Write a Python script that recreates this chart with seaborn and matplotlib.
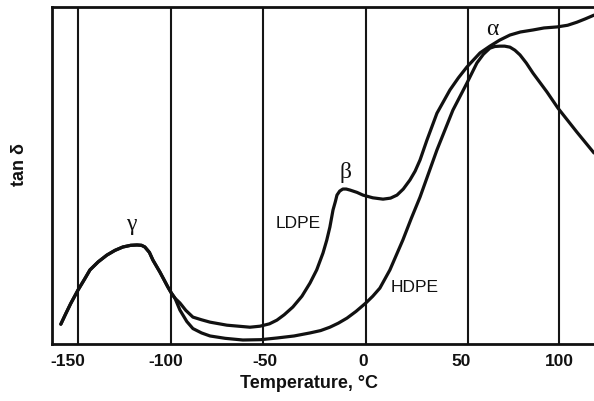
import matplotlib
matplotlib.use("Agg")
import matplotlib.pyplot as plt
import seaborn as sns
import pandas as pd

# shared gamma-relaxation part of both curves (deg C, arbitrary tan delta units 0..100)
common_t = [-153.5, -151.0, -148.5, -144.8, -141.5, -138.7, -134.5, -130.1, -126.0, -122.0,
            -118.0, -114.8, -112.5, -110.8, -108.5, -106.7, -105.0, -103.2, -101.0, -99.1,
            -97.3, -95.5]
common_tan = [5.9, 9.0, 12.0, 16.0, 19.2, 22.0, 24.4, 26.4, 27.8, 28.8,
              29.3, 29.4, 29.3, 28.8, 27.2, 24.9, 23.2, 21.4, 19.0, 16.9,
              15.1, 13.6]

ldpe_t = [-93.0, -90.0, -86.4, -82.0, -77.7, -69.1, -57.4, -52.3, -47.5, -43.7, -40.0,
          -35.6, -31.0, -26.9, -23.5, -20.3, -18.4, -16.8, -15.2, -14.0, -13.2, -11.8,
          -10.2, -8.5, -6.6, -3.0, 0.0, 5.0, 10.2, 14.0, 17.3, 20.5, 23.9, 26.5, 29.0,
          32.5, 37.6, 44.2, 48.5, 52.8, 59.5, 64.5, 69.5, 74.7, 80.0, 86.4, 92.0, 98.6,
          104.0, 108.7, 113.0, 117.4]
ldpe_tan = [12.2, 10.0, 8.0, 7.2, 6.5, 5.6, 5.0, 5.3, 6.0, 7.1, 8.7,
            11.0, 14.2, 18.1, 22.0, 27.0, 30.8, 34.7, 39.8, 42.3, 44.2, 45.4,
            46.0, 46.0, 45.7, 45.0, 44.2, 43.4, 43.0, 43.3, 44.2, 46.0, 48.7, 51.3, 54.6,
            60.5, 68.5, 75.4, 79.0, 82.2, 86.4, 88.4, 90.2, 91.7, 92.6, 93.2, 93.8, 94.1,
            94.6, 95.5, 96.5, 97.6]

hdpe_t = [-93.0, -89.5, -86.4, -82.0, -77.7, -70.0, -61.0, -52.0, -43.7, -35.0, -26.9,
          -21.5, -16.8, -12.5, -8.1, -3.5, 1.5, 5.0, 8.6, 13.7, 20.3, 24.5, 29.0, 37.6,
          45.7, 52.8, 57.9, 61.2, 64.5, 67.0, 69.6, 72.0, 74.7, 77.2, 79.8, 83.0, 86.4,
          93.5, 99.1, 108.7, 117.4]
hdpe_tan = [10.1, 6.7, 4.6, 3.3, 2.4, 1.7, 1.2, 1.3, 1.8, 2.4, 3.3,
            4.0, 5.0, 6.2, 7.7, 9.7, 12.2, 14.2, 16.6, 22.0, 30.9, 37.2, 43.6, 57.6,
            69.4, 77.4, 83.4, 86.0, 87.8, 88.3, 88.4, 88.4, 88.1, 87.2, 85.8, 83.4, 80.4,
            74.8, 70.0, 62.9, 56.7]

x_ticks = [-150, -100, -50, 0, 50, 100]
grid_x = [-145, -97.5, -51, 1.5, 53.5, 99.5]

# annotations: text, temperature, tan delta
peak_labels = [("γ", -117.9, 35.6), ("β", -9.1, 51.0), ("α", 65.5, 93.2)]
grade_labels = [("LDPE", -33.0, 35.9), ("HDPE", 26.4, 16.9)]

rows = []
for name, tt, yy in [("LDPE", ldpe_t, ldpe_tan), ("HDPE", hdpe_t, hdpe_tan)]:
    for t, v in zip(common_t + tt, common_tan + yy):
        rows.append({"Temperature": t, "tan_delta": v, "grade": name})
df = pd.DataFrame(rows)

sns.set_theme(style="white")
plt.rcParams['font.family'] = ['Liberation Sans', 'DejaVu Sans']

fig = plt.figure(figsize=(5.94, 4.01), dpi=100)
ax = fig.add_axes([0.0875, 0.142, 0.9125, 0.8404])

for gx in grid_x:
    ax.axvline(gx, color="#151515", lw=1.5, zorder=1)

sns.lineplot(data=df, x="Temperature", y="tan_delta", hue="grade",
             palette={"LDPE": "#111111", "HDPE": "#111111"}, estimator=None,
             sort=False, linewidth=2.3, legend=False, ax=ax, zorder=3)
for line in ax.get_lines():
    line.set_solid_capstyle("round")
    line.set_solid_joinstyle("round")

for txt, t, v in peak_labels:
    ax.text(t, v, txt, fontsize=17, family=['Liberation Serif', 'DejaVu Serif'],
            ha="center", va="center", color="#111111")
for txt, t, v in grade_labels:
    ax.text(t, v, txt, fontsize=12.5, ha="center", va="center", color="#111111")

ax.set_xlim(-158.0, 117.4)
ax.set_ylim(0, 100)
ax.set_xticks(x_ticks)
ax.set_xticklabels([str(v) for v in x_ticks], fontsize=12.5, fontweight="bold")
ax.set_yticks([])
ax.tick_params(axis="x", length=0, pad=7, colors="#111111")

for side in ["left", "bottom", "top"]:
    ax.spines[side].set_color("#111111")
    ax.spines[side].set_linewidth(2.0)
ax.spines["right"].set_visible(False)

ax.set_xlabel("Temperature, °C", fontsize=13, fontweight="bold", color="#111111")
ax.xaxis.set_label_coords(0.474, -0.093)
ax.set_ylabel("tan δ", fontsize=13, fontweight="bold", color="#111111")
ax.yaxis.set_label_coords(-0.044, 0.534)

fig.savefig("out.png", dpi=100)
